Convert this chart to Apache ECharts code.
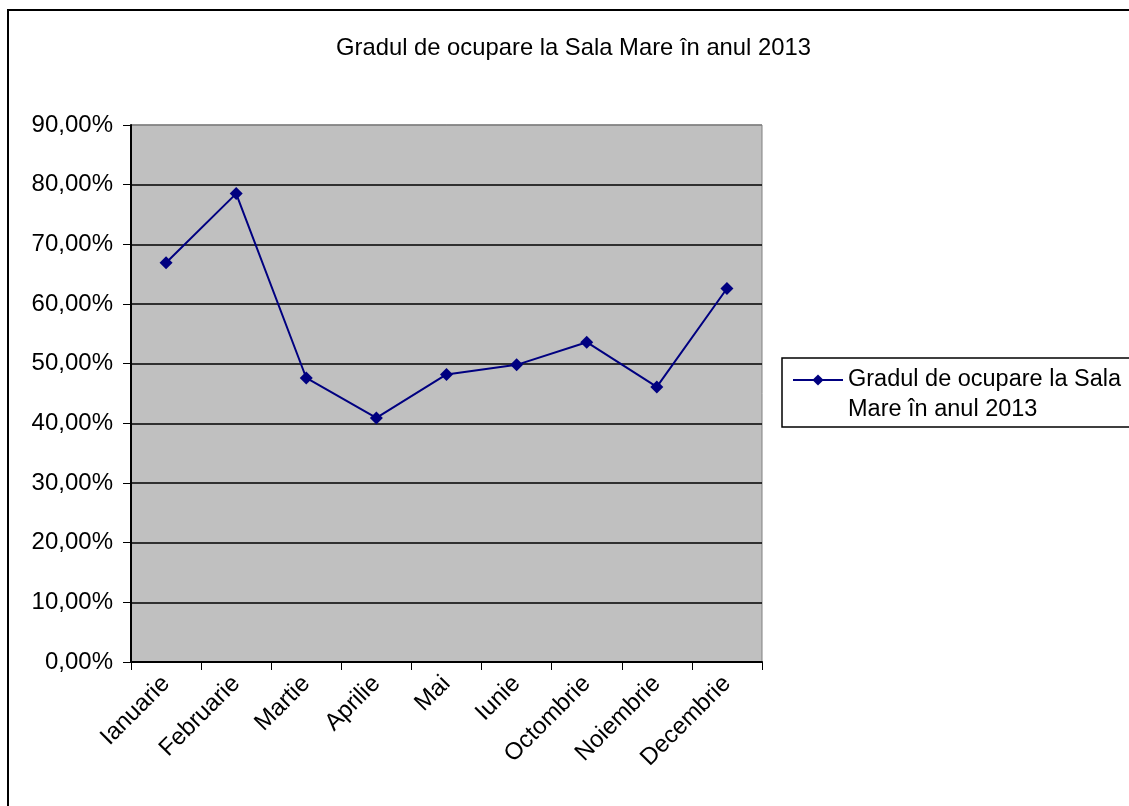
<!DOCTYPE html>
<html>
<head>
<meta charset="utf-8">
<script src="https://cdn.jsdelivr.net/npm/echarts@6/dist/echarts.min.js"></script>
<style>
html,body{margin:0;padding:0;background:#fff;}
#chart{width:1129px;height:806px;}
</style>
</head>
<body>
<div id="chart"></div>
<script>
var titleText = 'Gradul de ocupare la Sala Mare în anul 2013';
var seriesName = 'Gradul de ocupare la Sala Mare în anul 2013';
var categories = ['Ianuarie','Februarie','Martie','Aprilie','Mai','Iunie','Octombrie','Noiembrie','Decembrie'];
var values = [66.9, 78.5, 47.6, 40.9, 48.2, 49.8, 53.6, 46.1, 62.6];
var yTicks = [0, 10, 20, 30, 40, 50, 60, 70, 80, 90];

var FONT = 'Liberation Sans, Arial, sans-serif';
var chart = echarts.init(document.getElementById('chart'), null, {renderer: 'canvas'});
var splitColors = yTicks.map(function (t, i) { return i === yTicks.length - 1 ? '#808080' : '#000000'; });

chart.setOption({
  animation: false,
  backgroundColor: '#ffffff',
  graphic: [{
    type: 'rect', z: -10, silent: true,
    shape: {x: 8, y: 10, width: 1200, height: 900},
    style: {fill: '#ffffff', stroke: '#000000', lineWidth: 2}
  }, {
    type: 'rect', z: -5, silent: true,
    shape: {x: 782, y: 358, width: 400, height: 69},
    style: {fill: '#ffffff', stroke: '#000000', lineWidth: 1.5}
  }],
  title: {
    text: titleText,
    left: 336, top: 36, padding: 0,
    textStyle: {fontFamily: FONT, fontSize: 23.8, fontWeight: 'normal', color: '#000'}
  },
  legend: {
    left: 792, top: 335, padding: 0,
    itemWidth: 50, itemHeight: 14, itemGap: 0,
    data: [{name: seriesName}],
    formatter: function () { return '\nGradul de ocupare la Sala\nMare în anul 2013'; },
    textStyle: {fontFamily: FONT, fontSize: 23.5, color: '#000', lineHeight: 30}
  },
  grid: {left: 131, right: 367, top: 125, bottom: 144, show: true,
         backgroundColor: '#c0c0c0', borderColor: '#808080', borderWidth: 1},
  xAxis: {
    type: 'category', data: categories, boundaryGap: true,
    axisLine: {lineStyle: {color: '#000', width: 2}},
    axisTick: {show: true, length: 8, lineStyle: {color: '#000', width: 1}},
    axisLabel: {rotate: 45, margin: 18, fontFamily: FONT, fontSize: 24, color: '#000'},
    splitLine: {show: false}
  },
  yAxis: {
    type: 'value', min: 0, max: 90, interval: 10,
    axisLine: {show: true, lineStyle: {color: '#000', width: 2}},
    axisTick: {show: true, length: 8, lineStyle: {color: '#000', width: 1}},
    axisLabel: {margin: 18, fontFamily: FONT, fontSize: 24, color: '#000',
      formatter: function (v) { return v.toFixed(2).replace('.', ',') + '%'; }},
    splitLine: {show: true, lineStyle: {color: splitColors, width: 1.5}}
  },
  series: [{
    name: seriesName, type: 'line', data: values,
    symbol: 'diamond', symbolSize: 13,
    lineStyle: {color: '#000080', width: 2},
    itemStyle: {color: '#000080'}
  }]
});
</script>
</body>
</html>
